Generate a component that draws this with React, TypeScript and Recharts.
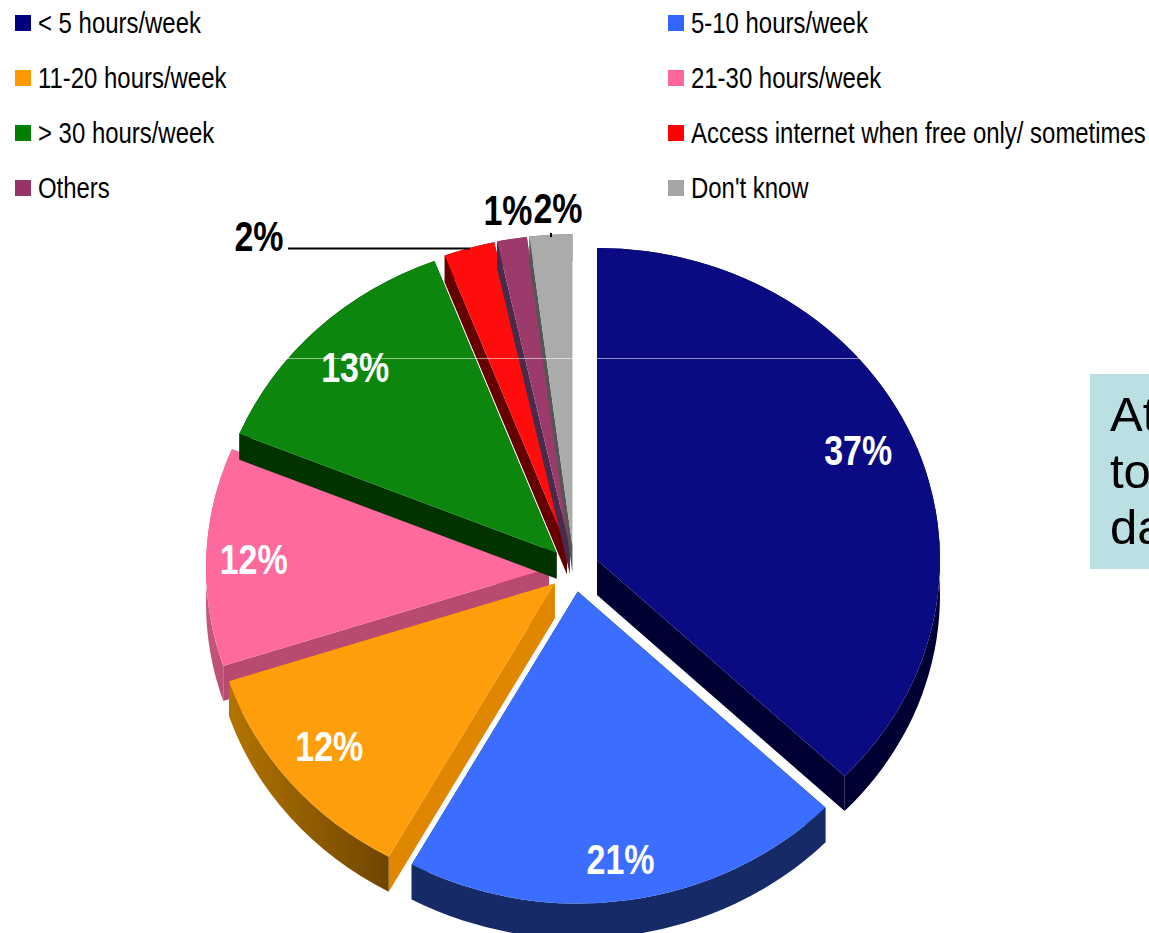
import React from 'react';
import { Pie, PieChart } from 'recharts';

// legend order, as the chart reads clockwise from 12 o'clock
const categories = [
  '< 5 hours/week',
  '5-10 hours/week',
  '11-20 hours/week',
  '21-30 hours/week',
  '> 30 hours/week',
  'Access internet when free only/ sometimes',
  'Others',
  "Don't know",
];
// wedge sizes, the printed labels are rounder than that
const shares = [37.2, 20.9, 11.9, 11.3, 13, 2.4, 1.4, 2];
const printedLabels = ['37%', '21%', '12%', '12%', '13%', '2%', '1%', '2%'];

const swatchColors = ['#000080', '#3366FF', '#FF9900', '#FF6699', '#008000', '#FF0000', '#993366', '#A6A6A6'];
const faceColors = ['#0A0A82', '#3B6EFF', '#FF9E0B', '#FF6A9E', '#0C860C', '#FF0D0D', '#9C3A6B', '#ABABAB'];
const sideColors = ['#000033', '#152A66', '#E08600', '#B84A72', '#003300', '#660000', '#4A2A4A', '#555555'];
const rimFrom = ['#000033', '#152A66', '#B37400', '#C4587C', '#003300', '#660000', '#4A2A4A', '#555555'];
const rimTo = ['#000033', '#152A66', '#6F4500', '#B84A72', '#003300', '#660000', '#4A2A4A', '#555555'];
const depths = [35, 35, 35, 35, 26, 27, 27, 27];

// pink has to paint first: orange and green both sit on top of its wall
const drawOrder = [3, 4, 5, 6, 7, 0, 1, 2];

const rows = drawOrder.map((i) => ({
  index: i,
  name: categories[i],
  share: shares[i],
  label: printedLabels[i],
  fill: faceColors[i],
}));

const total = shares.reduce((a, b) => a + b, 0);
const sharesBeforeFirst = shares.slice(0, drawOrder[0]).reduce((a, b) => a + b, 0);
const firstAngle = 90 - (360 * sharesBeforeFirst) / total;

const WIDTH = 1149;
const HEIGHT = 933;
const CX = 574;
const CY = 569;
const RADIUS = 343;
const SQUASH = 0.91;
const EXPLODE = 25;
const TEXT_FONT = '"Liberation Sans", Arial, sans-serif';

const rad = (deg: number) => (deg * Math.PI) / 180;

function at(cx: number, cy: number, r: number, deg: number) {
  return { x: cx + r * Math.cos(rad(deg)), y: cy - r * SQUASH * Math.sin(rad(deg)) };
}

function apexOf(cx: number, cy: number, startAngle: number, endAngle: number) {
  return at(cx, cy, EXPLODE, (startAngle + endAngle) / 2);
}

function Wedge3D(props: any) {
  const { cx, cy, outerRadius: r, startAngle, endAngle, payload } = props;
  const row = payload?.payload ?? payload;
  const i: number = row.index;
  const apex = apexOf(cx, cy, startAngle, endAngle);
  const p0 = at(apex.x, apex.y, r, startAngle);
  const p1 = at(apex.x, apex.y, r, endAngle);
  const ry = r * SQUASH;
  const d = depths[i];
  const large = Math.abs(startAngle - endAngle) > 180 ? 1 : 0;
  const gradientId = `rim-${i}`;

  const side = (p: { x: number; y: number }) =>
    `M${apex.x},${apex.y} L${p.x},${p.y} L${p.x},${p.y + d} L${apex.x},${apex.y + d} Z`;

  return (
    <g>
      <defs>
        <linearGradient id={gradientId} x1="0" y1="0" x2="1" y2="0">
          <stop offset="0" stopColor={rimFrom[i]} />
          <stop offset="1" stopColor={rimTo[i]} />
        </linearGradient>
      </defs>
      <path d={side(p0)} fill={sideColors[i]} />
      <path d={side(p1)} fill={sideColors[i]} />
      <path
        d={`M${p0.x},${p0.y} A${r},${ry} 0 ${large} 1 ${p1.x},${p1.y} L${p1.x},${p1.y + d} A${r},${ry} 0 ${large} 0 ${p0.x},${p0.y + d} Z`}
        fill={`url(#${gradientId})`}
      />
      <path
        d={`M${apex.x},${apex.y} L${p0.x},${p0.y} A${r},${ry} 0 ${large} 1 ${p1.x},${p1.y} Z`}
        fill={row.fill}
      />
    </g>
  );
}

// small slices carry their label outside the pie
const outsideLabels: Record<number, { x: number; y: number }> = {
  5: { x: 259, y: 236 },
  6: { x: 508, y: 210 },
  7: { x: 558, y: 208 },
};
// hand nudges for the labels that sit inside their wedge
const insideNudges: Record<number, [number, number]> = {
  0: [-7, -6],
  1: [-1, 5],
  2: [-1, -7],
  3: [-4, 0],
  4: [2, 4],
};

function PercentLabel(props: any) {
  const { cx, cy, outerRadius: r, startAngle, endAngle, payload } = props;
  const row = payload?.payload ?? payload;
  const outside = outsideLabels[row.index];
  const apex = apexOf(cx, cy, startAngle, endAngle);
  const inside = at(apex.x, apex.y, r * 0.85, (startAngle + endAngle) / 2);
  const nudge = insideNudges[row.index] ?? [0, 0];
  const pos = outside ?? { x: inside.x + nudge[0], y: inside.y + nudge[1] };
  return (
    <g>
      {row.index === 5 && <line x1={288} y1={248.5} x2={470} y2={248.5} stroke="#000" strokeWidth={2} />}
      {row.index === 7 && <line x1={551} y1={233} x2={551} y2={237} stroke="#000" strokeWidth={2} />}
      <text
        transform={`translate(${pos.x},${pos.y}) scale(0.79,1)`}
        textAnchor="middle"
        dominantBaseline="central"
        fontFamily={TEXT_FONT}
        fontWeight={700}
        fontSize={43}
        fill={outside ? '#000' : '#fff'}
      >
        {row.label}
      </text>
    </g>
  );
}

function LegendBlock() {
  return (
    <>
      {categories.map((name, i) => (
        <div
          key={name}
          style={{
            position: 'absolute',
            left: i % 2 === 0 ? 15 : 668,
            top: 23 + Math.floor(i / 2) * 55 - 16,
            height: 32,
            display: 'flex',
            alignItems: 'center',
            whiteSpace: 'nowrap',
            fontFamily: TEXT_FONT,
            fontSize: 29,
            color: '#000',
          }}
        >
          <span style={{ width: 16, height: 16, background: swatchColors[i], marginRight: 7, flex: 'none' }} />
          {/* no narrow face installed, so the regular one is squeezed */}
          <span style={{ display: 'inline-block', transform: 'scaleX(0.825)', transformOrigin: 'left center' }}>{name}</span>
        </div>
      ))}
    </>
  );
}

function CalloutBox() {
  return (
    <div
      style={{
        position: 'absolute',
        left: 1090,
        top: 374,
        width: 59,
        height: 195,
        overflow: 'hidden',
        background: '#BBE0E3',
        fontFamily: TEXT_FONT,
        fontSize: 49,
        lineHeight: '56.5px',
        color: '#000',
      }}
    >
      <div style={{ position: 'absolute', left: 20, top: 12, whiteSpace: 'nowrap' }}>
        At
        <br />
        to
        <br />
        da
      </div>
    </div>
  );
}

export default function App() {
  return (
    <div style={{ position: 'absolute', left: 0, top: 0, width: WIDTH, height: HEIGHT, overflow: 'hidden', background: '#fff' }}>
      <PieChart width={WIDTH} height={HEIGHT} margin={{ top: 0, right: 0, bottom: 0, left: 0 }}>
        <Pie
          data={rows}
          dataKey="share"
          nameKey="name"
          cx={CX}
          cy={CY}
          innerRadius={0}
          outerRadius={RADIUS}
          startAngle={firstAngle}
          endAngle={firstAngle - 360}
          stroke="none"
          shape={Wedge3D}
          label={PercentLabel}
          labelLine={false}
          isAnimationActive={false}
        />
      </PieChart>
      {/* stray hairline that runs across the top of the pie */}
      <div style={{ position: 'absolute', left: 288, top: 358, width: 572, height: 1, background: 'rgba(255,255,255,0.55)' }} />
      <LegendBlock />
      <CalloutBox />
    </div>
  );
}
